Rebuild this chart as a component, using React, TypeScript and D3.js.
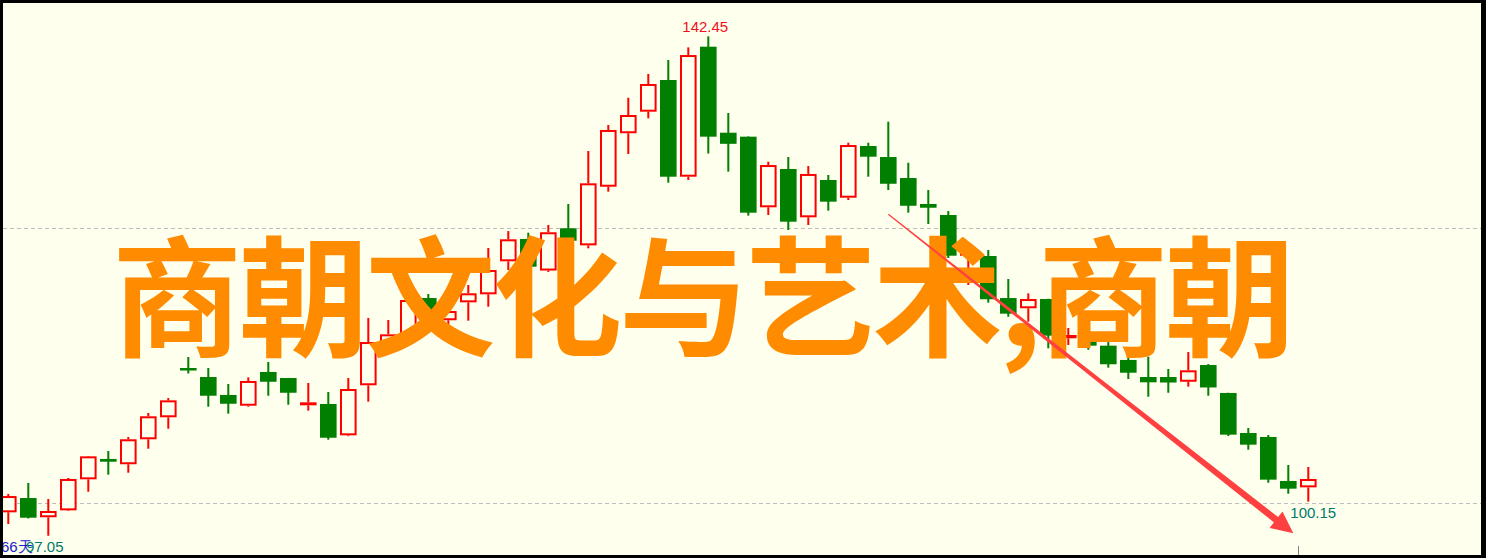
import React from "react";
import * as d3 from "d3";

const W = 1486;
const H = 558;

// OHLC (66 trading days)
const OPEN = [99.18,100.48,98.73,99.36,102.18,104.03,103.55,105.82,107.82,112.30,111.48,109.85,108.87,111.94,111.39,108.91,109.03,106.18,110.73,114.39,115.30,118.66,116.64,118.27,119.00,122.00,124.03,121.16,125.00,123.45,128.78,133.64,135.60,138.48,129.69,141.51,133.69,133.33,126.91,130.39,126.00,129.39,127.78,132.48,131.48,129.57,127.21,126.21,122.51,122.48,118.66,117.73,118.57,115.00,115.30,114.33,113.03,111.48,111.48,111.05,112.57,110.03,106.39,106.03,102.03,101.45];
const HIGH = [100.85,101.85,100.39,102.30,104.30,104.75,106.03,108.21,109.57,113.30,112.30,110.85,111.45,112.85,111.40,110.94,110.12,111.39,116.85,116.66,118.75,119.03,118.42,119.85,123.21,124.75,124.60,125.30,127.21,132.03,134.39,136.87,139.03,140.30,141.45,142.45,135.48,133.35,131.05,131.48,130.66,129.85,132.78,132.78,134.69,130.96,128.48,126.57,123.39,123.03,120.39,119.09,118.60,115.94,115.75,115.15,113.39,113.33,112.21,113.75,112.66,110.05,106.85,106.21,103.48,103.30];
const LOW = [98.12,98.62,97.05,99.30,101.05,102.60,102.78,104.96,106.78,111.80,108.78,108.15,108.78,109.78,108.96,108.42,105.78,106.10,109.24,113.94,114.57,115.48,116.05,116.60,117.87,121.21,120.75,121.03,123.39,123.18,128.33,131.75,135.00,129.15,129.39,131.80,130.15,126.15,126.21,124.85,125.30,126.60,127.57,129.69,128.48,126.42,125.39,122.30,119.85,118.24,116.96,116.51,114.09,114.39,113.96,112.33,111.30,109.69,110.05,110.60,109.78,106.12,104.87,101.87,100.87,100.15];
const CLOSE = [100.66,98.69,99.30,102.21,104.27,103.78,105.82,107.91,109.36,112.15,109.78,109.05,111.12,111.05,110.05,109.18,105.96,110.39,114.66,115.36,118.48,116.85,117.48,119.09,121.21,124.00,121.51,124.64,123.87,129.09,133.94,135.30,138.12,129.69,140.75,133.33,132.68,126.42,130.75,125.60,129.94,127.42,132.57,131.51,129.05,127.05,126.87,122.51,123.03,118.55,117.24,118.57,115.24,115.30,114.33,112.64,111.87,111.00,110.98,112.09,110.53,106.24,105.33,102.15,101.33,102.21];

const GRID_PRICES = [100, 125];
const MAX_LABEL = "142.45";
const MIN_LABEL = "100.15";
const LOW_LABEL = "97.05";
const DAYS_LABEL = "66天";
const TITLE = "商朝文化与艺术,商朝";

// trend arrow in data coordinates: [index, price]
const ARROW_START = [44.0, 126.27];
const ARROW_END = [64.25, 97.27];

const BG = "#FFFFEE";
const UP = "#FF0000";
const DOWN = "#007F00";

export default function App() {
  const x = d3.scaleLinear().domain([0, 65]).range([8.3, 1308.3]);
  const y = d3.scaleLinear().domain([100, 125]).range([503.3, 228.3]);
  const idx = d3.range(OPEN.length);

  // arrow polygon
  const [sx, sy] = [x(ARROW_START[0]), y(ARROW_START[1])];
  const [ex, ey] = [x(ARROW_END[0]), y(ARROW_END[1])];
  const len = Math.hypot(ex - sx, ey - sy);
  const ux = (ex - sx) / len, uy = (ey - sy) / len;
  const nx = -uy, ny = ux;
  const headLen = 22, headHalf = 10.5, w0 = 0.6, w1 = 3.4;
  const bx = ex - ux * headLen, by = ey - uy * headLen;
  const arrowPts = [
    [sx + nx * w0, sy + ny * w0],
    [bx + nx * w1, by + ny * w1],
    [bx + nx * headHalf, by + ny * headHalf],
    [ex, ey],
    [bx - nx * headHalf, by - ny * headHalf],
    [bx - nx * w1, by - ny * w1],
    [sx - nx * w0, sy - ny * w0],
  ];

  return (
    <svg width={W} height={H} style={{ position: "absolute", left: 0, top: 0 }}>
      <defs>
        <clipPath id="plot">
          <rect x={3} y={3} width={1478} height={552} />
        </clipPath>
      </defs>
      <rect x={0} y={0} width={W} height={H} fill="#000" />
      <rect x={3} y={3} width={1478} height={552} fill={BG} />
      <g clipPath="url(#plot)">
        {GRID_PRICES.map((p) => (
          <line key={p} x1={3} x2={1481} y1={Math.round(y(p)) + 0.5} y2={Math.round(y(p)) + 0.5}
            stroke="#BDBDBD" strokeWidth={1} strokeDasharray="4,3" />
        ))}
        {idx.map((i) => {
          const c = x(i);
          const up = CLOSE[i] >= OPEN[i];
          const top = y(Math.max(OPEN[i], CLOSE[i]));
          const bot = y(Math.min(OPEN[i], CLOSE[i]));
          if (up) {
            return (
              <g key={i}>
                <line x1={c} x2={c} y1={y(HIGH[i])} y2={top} stroke={UP} strokeWidth={2} />
                <line x1={c} x2={c} y1={bot} y2={y(LOW[i])} stroke={UP} strokeWidth={2} />
                <rect x={c - 7.3} y={top + 1} width={14.6} height={Math.max(1, bot - top - 2)}
                  fill={BG} stroke={UP} strokeWidth={2} />
              </g>
            );
          }
          return (
            <g key={i}>
              <line x1={c} x2={c} y1={y(HIGH[i])} y2={y(LOW[i])} stroke={DOWN} strokeWidth={2} />
              <rect x={c - 8.3} y={top} width={16.6} height={Math.max(2.5, bot - top)} fill={DOWN} />
            </g>
          );
        })}
        <text x={x(35) - 26} y={32} fontFamily="Liberation Sans, Arial, sans-serif" fontSize={15} fill="#EE1122">{MAX_LABEL}</text>
        <text x={x(64) + 2} y={518} fontFamily="Liberation Sans, Arial, sans-serif" fontSize={15} fill="#007A6A">{MIN_LABEL}</text>
        <text x={1} y={552} fontFamily="Liberation Sans, Arial, sans-serif" fontSize={15} fill="#1A1ACC">{DAYS_LABEL}</text>
        <text x={26} y={552} fontFamily="Liberation Sans, Arial, sans-serif" fontSize={15} fill="#007A6A">{LOW_LABEL}</text>
        <line x1={1298.5} x2={1298.5} y1={546} y2={555} stroke="#808080" strokeWidth={1} />
        <text x={112} y={346} fontFamily="Noto Sans CJK SC, sans-serif" fontWeight="bold" fontSize={130}
          fill="#FF8C00" textLength={1183} lengthAdjust="spacing">{TITLE}</text>
        <polygon points={arrowPts.map((p) => p.join(",")).join(" ")} fill="#FF4040" />
      </g>
    </svg>
  );
}
